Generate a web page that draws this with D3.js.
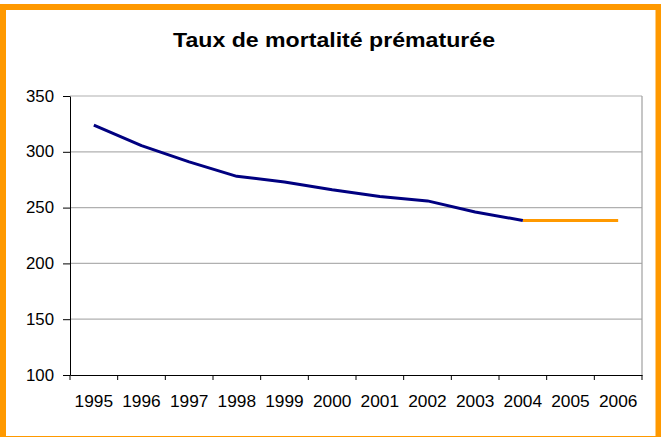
<!DOCTYPE html>
<html><head><meta charset="utf-8">
<script src="https://cdn.jsdelivr.net/npm/d3@7"></script>
<style>html,body{margin:0;padding:0;background:#fff;}svg{display:block;font-family:Arial,"Liberation Sans",sans-serif;}</style>
</head><body>
<script>
const title = "Taux de mortalité prématurée";
const years = ["1995","1996","1997","1998","1999","2000","2001","2002","2003","2004","2005","2006"];
const observed = [324, 305.5, 291, 278, 273, 266, 260, 256, 246, 238.5, null, null];
const projected = [null, null, null, null, null, null, null, null, null, 238.5, 238.5, 238.5];
const yTicks = [100, 150, 200, 250, 300, 350];

const W = 661, H = 437;
const m = {left: 70, right: 661-642, top: 96, bottom: 437-375};
const FONT = "Arial, 'Liberation Sans', sans-serif";
const svg = d3.select("body").append("svg").attr("width", W).attr("height", H);

svg.append("rect").attr("x", 3).attr("y", 7).attr("width", 655.5).attr("height", 432)
  .attr("fill", "#fff").attr("stroke", "#FF9900").attr("stroke-width", 6);

svg.append("text").attr("x", 334).attr("y", 46.5).attr("text-anchor", "middle")
  .attr("font-size", 21).attr("font-weight", "bold").attr("fill", "#000")
  .attr("font-family", FONT)
  .attr("textLength", 322).attr("lengthAdjust", "spacingAndGlyphs").text(title);

const x = d3.scaleBand().domain(years).range([m.left, W - m.right]);
const y = d3.scaleLinear().domain([100, 350]).range([H - m.bottom, m.top]);

// gridlines
svg.append("g").selectAll("line").data(yTicks.filter(d => d > 100)).join("line")
  .attr("x1", m.left).attr("x2", W - m.right)
  .attr("y1", d => y(d)).attr("y2", d => y(d))
  .attr("stroke", "#b0b0b0").attr("stroke-width", 1.2);
// right border
svg.append("line").attr("x1", W - m.right).attr("x2", W - m.right)
  .attr("y1", m.top).attr("y2", H - m.bottom).attr("stroke", "#a0a0a0").attr("stroke-width", 1.2);

// y axis
const ya = svg.append("g").attr("transform", `translate(${m.left},0)`)
  .call(d3.axisLeft(y).tickValues(yTicks).tickSize(7).tickPadding(9).tickSizeOuter(0));
ya.select(".domain").attr("stroke", "#000");
ya.selectAll("line").attr("stroke", "#000");
ya.selectAll("text").attr("font-size", 16).attr("fill", "#000").attr("font-family", FONT)
  .attr("textLength", 28).attr("lengthAdjust", "spacingAndGlyphs");

// x axis
const xa = svg.append("g").attr("transform", `translate(0,${H - m.bottom})`)
  .call(d3.axisBottom(x).tickSize(0).tickPadding(20));
xa.select(".domain").attr("stroke", "#000");
xa.selectAll("text").attr("font-size", 16.5).attr("fill", "#000").attr("font-family", FONT)
  .attr("textLength", 38.5).attr("lengthAdjust", "spacingAndGlyphs");
const bounds = years.map(d => x(d)).concat([x(years[years.length-1]) + x.bandwidth()]);
xa.append("g").selectAll("line").data(bounds).join("line")
  .attr("x1", d => d).attr("x2", d => d).attr("y1", 0).attr("y2", 5).attr("stroke", "#000");

const line = d3.line().defined(d => d.v != null)
  .x(d => x(d.y) + x.bandwidth()/2).y(d => y(d.v));

svg.append("path").datum(years.map((yr,i) => ({y: yr, v: projected[i]})))
  .attr("d", line).attr("fill", "none").attr("stroke", "#FF9900").attr("stroke-width", 3);
svg.append("path").datum(years.map((yr,i) => ({y: yr, v: observed[i]})))
  .attr("d", line).attr("fill", "none").attr("stroke", "#000080").attr("stroke-width", 3)
  .attr("stroke-linejoin", "round");
</script>
</body></html>
